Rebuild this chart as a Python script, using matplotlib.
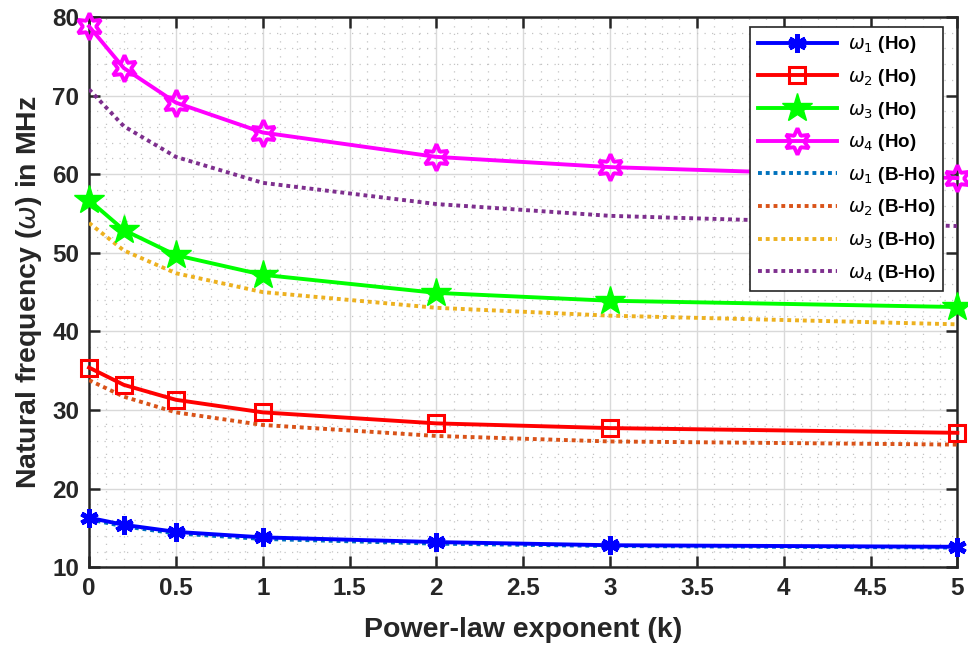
import matplotlib
matplotlib.use("Agg")
import matplotlib.pyplot as plt
import numpy as np
from matplotlib.ticker import MultipleLocator

plt.rcParams['font.family'] = ['Liberation Sans', 'DejaVu Sans']
plt.rcParams['mathtext.fontset'] = 'dejavusans'

k = [0, 0.2, 0.5, 1, 2, 3, 5]
w1_ho = [16.3, 15.4, 14.5, 13.8, 13.2, 12.8, 12.6]
w2_ho = [35.4, 33.2, 31.3, 29.7, 28.3, 27.7, 27.1]
w3_ho = [56.7, 52.9, 49.7, 47.2, 44.9, 43.9, 43.1]
w4_ho = [78.8, 73.5, 69.1, 65.3, 62.2, 60.9, 59.5]
w1_bho = [16.1, 15.2, 14.3, 13.6, 13.0, 12.7, 12.5]
w2_bho = [33.8, 31.7, 29.7, 28.1, 26.7, 26.0, 25.6]
w3_bho = [53.8, 50.3, 47.4, 45.0, 43.0, 42.0, 40.9]
w4_bho = [70.8, 66.1, 62.2, 58.9, 56.2, 54.7, 53.4]

labels_ho = [r'$\omega_1$ (Ho)', r'$\omega_2$ (Ho)', r'$\omega_3$ (Ho)', r'$\omega_4$ (Ho)']
labels_bho = [r'$\omega_1$ (B-Ho)', r'$\omega_2$ (B-Ho)', r'$\omega_3$ (B-Ho)', r'$\omega_4$ (B-Ho)']

fig = plt.figure(figsize=(9.68, 6.52), dpi=100)
ax = fig.add_axes([0.092, 0.130, 0.897, 0.844])

lw = 2.8
ax.plot(k, w1_ho, color=(0, 0, 1), lw=lw, marker=(6, 2, 0), ms=13, mew=3.5, label=labels_ho[0], zorder=4, clip_on=False)
ax.plot(k, w2_ho, color=(1, 0, 0), lw=lw, marker='s', ms=11, mfc='none', mew=2.2, label=labels_ho[1], zorder=4, clip_on=False)
ax.plot(k, w3_ho, color=(0, 1, 0), lw=lw, marker='*', ms=22, mfc=(0, 1, 0), label=labels_ho[2], zorder=4, clip_on=False)
ax.plot(k, w4_ho, color=(1, 0, 1), lw=lw, marker=(6, 1, 0), ms=19, mfc='none', mew=2.8, label=labels_ho[3], zorder=4, clip_on=False)

bcols = ['#0072BD', '#D95319', '#EDB120', '#7E2F8E']
for data, c, lab in zip([w1_bho, w2_bho, w3_bho, w4_bho], bcols, labels_bho):
    ax.plot(k, data, color=c, lw=lw, ls=(0, (1.0, 1.0)), label=lab, zorder=3)

ax.set_xlim(0, 5)
ax.set_ylim(10, 80)
ax.xaxis.set_minor_locator(MultipleLocator(0.1))
ax.yaxis.set_major_locator(MultipleLocator(10))
ax.yaxis.set_minor_locator(MultipleLocator(2))
ticks = [0, 0.5, 1, 1.5, 2, 2.5, 3, 3.5, 4, 4.5, 5]
ax.set_xticks(ticks)
ax.set_xticklabels(['0', '0.5', '1', '1.5', '2', '2.5', '3', '3.5', '4', '4.5', '5'])

ax.grid(True, which='major', color='#d9d9d9', lw=1.0)
ax.grid(True, which='minor', color='#c4c4c4', lw=0.9, ls=(0, (1, 5)))
ax.set_axisbelow(True)

ax.tick_params(which='major', direction='in', length=8, width=1.8, top=True, right=True,
               labelsize=17.5, colors='#262626', pad=7)
ax.tick_params(which='minor', length=0)
for lbl in ax.get_xticklabels() + ax.get_yticklabels():
    lbl.set_fontweight('bold')
for s in ax.spines.values():
    s.set_linewidth(1.8)
    s.set_color('#262626')

ax.set_xlabel('Power-law exponent (k)', fontsize=20.5, fontweight='bold', color='#262626', labelpad=12)
ax.set_ylabel(r'Natural frequency ($\omega$) in MHz', fontsize=20.5, fontweight='bold', color='#262626', labelpad=6)

leg = ax.legend(loc='upper right', bbox_to_anchor=(0.984, 0.982), prop={'weight': 'bold', 'size': 13.5},
                frameon=True, fancybox=False, edgecolor='#262626', framealpha=1, handlelength=4.2,
                labelspacing=0.62, borderpad=0.4, handletextpad=0.6, borderaxespad=0)
leg.get_frame().set_linewidth(1.2)

fig.savefig('out.png', dpi=100)
